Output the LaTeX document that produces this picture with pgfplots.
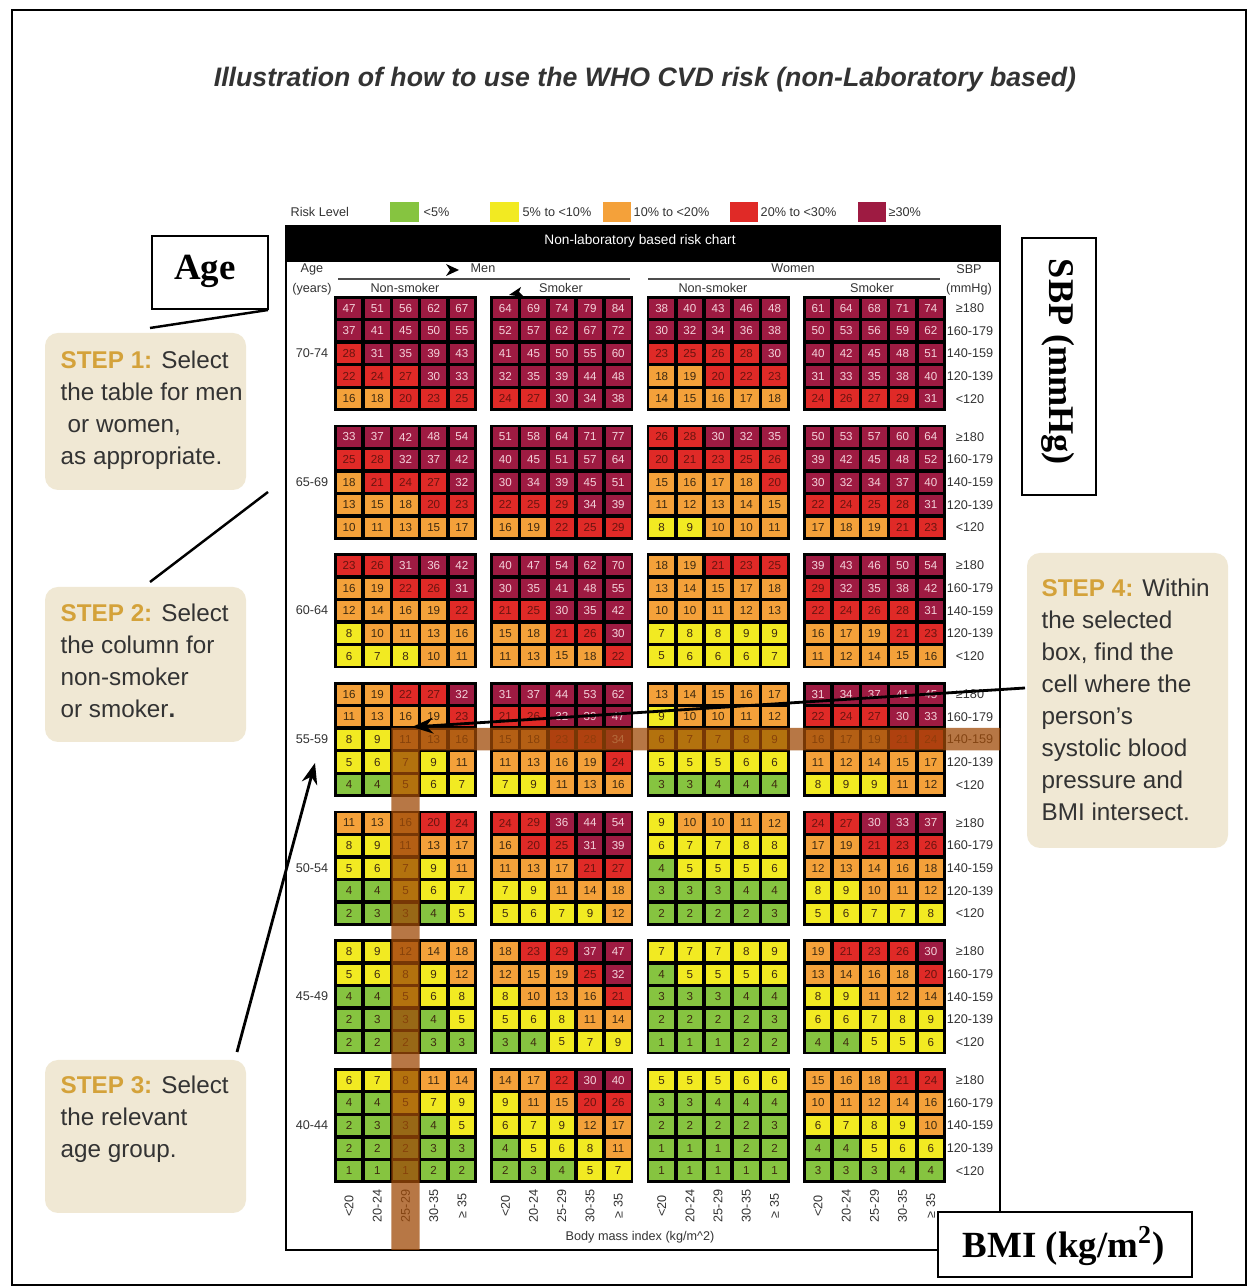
\documentclass[border=0pt]{standalone}
\usepackage{fontspec}
\setmainfont{Liberation Sans}
\newfontfamily\serifb{Liberation Serif}
\usepackage{pgfplots}
\usepackage{pgfplotstable}
\pgfplotsset{compat=1.18}
\usetikzlibrary{arrows.meta}
\definecolor{cgreen}{HTML}{86C440}
\definecolor{cyellow}{HTML}{F2EA22}
\definecolor{corange}{HTML}{F4A13A}
\definecolor{cred}{HTML}{E02A27}
\definecolor{cmaroon}{HTML}{9E1B42}
\definecolor{ctxt}{HTML}{3E2A10}
\definecolor{ctxtr}{HTML}{6A1410}
\definecolor{cpink}{HTML}{F4D2DA}
\definecolor{cband}{HTML}{9F4A08}
\definecolor{cbeige}{HTML}{F0E8D4}
\definecolor{cgold}{HTML}{D4A23A}
\definecolor{cdark}{HTML}{333333}
\pgfdeclareplotmark{cell}{%
  \pgfpathrectangle{\pgfpoint{-0.123cm}{-0.096cm}}{\pgfpoint{0.246cm}{0.192cm}}\pgfusepath{fill}}
% one risk class of one BMI column: #1 column, #2-#3 value range, #4 cell colour, #5 number colour
\newcommand{\cellplot}[5]{%
  \addplot[only marks, mark=cell, mark options={fill=#4, draw=none}, point meta=explicit,
    restrict expr to domain={\thisrow{c#1}}{#2:#3},
    nodes near coords,
    every node near coord/.append style={anchor=center, inner sep=0pt, font=\fontsize{3.3}{3.5}\selectfont, text=#5}]
    table[x expr={349.1+#1*28.2+floor((#1+0.5)/5)*15.3}, y expr={308.3+\thisrow{a}*128.67+\thisrow{r}*22.6}, meta=c#1] {\risk};}
% columns: a = age group (0 = 70-74 ... 6 = 40-44), r = SBP row (0 = >=180 ... 4 = <120)
% c0-c4 men non-smoker, c5-c9 men smoker, c10-c14 women non-smoker, c15-c19 women smoker (BMI <20 ... >=35)
\pgfplotstableread{
a r c0 c1 c2 c3 c4 c5 c6 c7 c8 c9 c10 c11 c12 c13 c14 c15 c16 c17 c18 c19
0 0 47 51 56 62 67 64 69 74 79 84 38 40 43 46 48 61 64 68 71 74
0 1 37 41 45 50 55 52 57 62 67 72 30 32 34 36 38 50 53 56 59 62
0 2 28 31 35 39 43 41 45 50 55 60 23 25 26 28 30 40 42 45 48 51
0 3 22 24 27 30 33 32 35 39 44 48 18 19 20 22 23 31 33 35 38 40
0 4 16 18 20 23 25 24 27 30 34 38 14 15 16 17 18 24 26 27 29 31
1 0 33 37 42 48 54 51 58 64 71 77 26 28 30 32 35 50 53 57 60 64
1 1 25 28 32 37 42 40 45 51 57 64 20 21 23 25 26 39 42 45 48 52
1 2 18 21 24 27 32 30 34 39 45 51 15 16 17 18 20 30 32 34 37 40
1 3 13 15 18 20 23 22 25 29 34 39 11 12 13 14 15 22 24 25 28 31
1 4 10 11 13 15 17 16 19 22 25 29 8 9 10 10 11 17 18 19 21 23
2 0 23 26 31 36 42 40 47 54 62 70 18 19 21 23 25 39 43 46 50 54
2 1 16 19 22 26 31 30 35 41 48 55 13 14 15 17 18 29 32 35 38 42
2 2 12 14 16 19 22 21 25 30 35 42 10 10 11 12 13 22 24 26 28 31
2 3 8 10 11 13 16 15 18 21 26 30 7 8 8 9 9 16 17 19 21 23
2 4 6 7 8 10 11 11 13 15 18 22 5 6 6 6 7 11 12 14 15 16
3 0 16 19 22 27 32 31 37 44 53 62 13 14 15 16 17 31 34 37 41 45
3 1 11 13 16 19 23 21 26 32 39 47 9 10 10 11 12 22 24 27 30 33
3 2 8 9 11 13 16 15 18 23 28 34 6 7 7 8 9 16 17 19 21 24
3 3 5 6 7 9 11 11 13 16 19 24 5 5 5 6 6 11 12 14 15 17
3 4 4 4 5 6 7 7 9 11 13 16 3 3 4 4 4 8 9 9 11 12
4 0 11 13 16 20 24 24 29 36 44 54 9 10 10 11 12 24 27 30 33 37
4 1 8 9 11 13 17 16 20 25 31 39 6 7 7 8 8 17 19 21 23 26
4 2 5 6 7 9 11 11 13 17 21 27 4 5 5 5 6 12 13 14 16 18
4 3 4 4 5 6 7 7 9 11 14 18 3 3 3 4 4 8 9 10 11 12
4 4 2 3 3 4 5 5 6 7 9 12 2 2 2 2 3 5 6 7 7 8
5 0 8 9 12 14 18 18 23 29 37 47 7 7 7 8 9 19 21 23 26 30
5 1 5 6 8 9 12 12 15 19 25 32 4 5 5 5 6 13 14 16 18 20
5 2 4 4 5 6 8 8 10 13 16 21 3 3 3 4 4 8 9 11 12 14
5 3 2 3 3 4 5 5 6 8 11 14 2 2 2 2 3 6 6 7 8 9
5 4 2 2 2 3 3 3 4 5 7 9 1 1 1 2 2 4 4 5 5 6
6 0 6 7 8 11 14 14 17 22 30 40 5 5 5 6 6 15 16 18 21 24
6 1 4 4 5 7 9 9 11 15 20 26 3 3 4 4 4 10 11 12 14 16
6 2 2 3 3 4 5 6 7 9 12 17 2 2 2 2 3 6 7 8 9 10
6 3 2 2 2 3 3 4 5 6 8 11 1 1 1 2 2 4 4 5 6 6
6 4 1 1 1 2 2 2 3 4 5 7 1 1 1 1 1 3 3 3 4 4
}\risk
\begin{document}
\begin{tikzpicture}
\begin{axis}[
  set layers,
  scale only axis, width=12.56cm, height=12.88cm,
  xmin=0, xmax=1256, ymin=0, ymax=1288, y dir=reverse,
  hide axis, clip=false,
  /pgf/number format/assume math mode=true,
]
\fill[white] (axis cs:0,0) rectangle (axis cs:1256,1288);
\draw[line width=0.6pt] (axis cs:12,10) rectangle (axis cs:1246,1285);
% title
\node[font=\fontsize{7.6}{8}\selectfont\bfseries\itshape, text=cdark] at (axis cs:645,80) {Illustration of how to use the WHO CVD risk (non-Laboratory based)};
% legend
\begin{scope}[every node/.style={anchor=west, inner sep=0pt, font=\fontsize{3.6}{4}\selectfont, text=cdark}]
\node at (axis cs:290,212) {Risk Level};
\node at (axis cs:423,212) {<5\%};
\node at (axis cs:522,212) {5\% to <10\%};
\node at (axis cs:633,212) {10\% to <20\%};
\node at (axis cs:760,212) {20\% to <30\%};
\node at (axis cs:888,212) {≥30\%};
\end{scope}
\fill[cgreen] (axis cs:390,202) rectangle (axis cs:419,222);
\fill[cyellow] (axis cs:490,202) rectangle (axis cs:519,222);
\fill[corange] (axis cs:603,202) rectangle (axis cs:631,222);
\fill[cred] (axis cs:730,202) rectangle (axis cs:758,222);
\fill[cmaroon] (axis cs:858,202) rectangle (axis cs:886,222);
% chart frame and header
\fill[black] (axis cs:286,226) rectangle (axis cs:1000,262);
\draw[line width=0.8pt] (axis cs:286,226) rectangle (axis cs:1000,1250);
\node[font=\fontsize{3.9}{4}\selectfont, text=white] at (axis cs:640,241) {Non-laboratory based risk chart};
\draw[line width=0.5pt, black!70] (axis cs:338,279) -- (axis cs:630,279);
\draw[line width=0.5pt, black!70] (axis cs:648,279) -- (axis cs:940,279);
\begin{scope}[font=\fontsize{3.6}{4}\selectfont, text=cdark]
\node at (axis cs:312,269) {Age};
\node at (axis cs:312,289) {(years)};
\node at (axis cs:483,268) {Men};
\node at (axis cs:793,268) {Women};
\node at (axis cs:405,288) {Non-smoker};
\node at (axis cs:561,288) {Smoker};
\node at (axis cs:713,288) {Non-smoker};
\node at (axis cs:872,288) {Smoker};
\node at (axis cs:969,269) {SBP};
\node at (axis cs:969,289) {(mmHg)};
\node at (axis cs:312,353) {70-74};
\node at (axis cs:312,482) {65-69};
\node at (axis cs:312,610) {60-64};
\node at (axis cs:312,739) {55-59};
\node at (axis cs:312,868) {50-54};
\node at (axis cs:312,996) {45-49};
\node at (axis cs:312,1125) {40-44};
\node at (axis cs:640,1237) {Body mass index (kg/m\textasciicircum 2)};
\end{scope}
\fill (axis cs:446,264) -- (axis cs:459,270) -- (axis cs:446,276) -- (axis cs:450,270) -- cycle;
\fill (axis cs:509,295) -- (axis cs:521,287) -- (axis cs:519,292) -- (axis cs:524,297) -- cycle;
% SBP labels and black block backgrounds
\pgfplotsinvokeforeach{0,...,6}{
  \node[font=\fontsize{3.6}{4}\selectfont, text=cdark] at (axis cs:970,{308.3+#1*128.67}) {≥180};
  \node[font=\fontsize{3.6}{4}\selectfont, text=cdark] at (axis cs:970,{330.9+#1*128.67}) {160-179};
  \node[font=\fontsize{3.6}{4}\selectfont, text=cdark] at (axis cs:970,{353.5+#1*128.67}) {140-159};
  \node[font=\fontsize{3.6}{4}\selectfont, text=cdark] at (axis cs:970,{376.1+#1*128.67}) {120-139};
  \node[font=\fontsize{3.6}{4}\selectfont, text=cdark] at (axis cs:970,{398.7+#1*128.67}) {<120};
  \fill[black] (axis cs:334,{296+#1*128.67}) rectangle (axis cs:477,{411+#1*128.67});
  \fill[black] (axis cs:490.3,{296+#1*128.67}) rectangle (axis cs:633.3,{411+#1*128.67});
  \fill[black] (axis cs:646.6,{296+#1*128.67}) rectangle (axis cs:789.6,{411+#1*128.67});
  \fill[black] (axis cs:802.9,{296+#1*128.67}) rectangle (axis cs:945.9,{411+#1*128.67});
}
% BMI labels
\pgfplotsinvokeforeach{0,...,3}{
  \node[rotate=90, font=\fontsize{3.6}{4}\selectfont, text=cdark] at (axis cs:{349.1+#1*156.3},1206) {<20};
  \node[rotate=90, font=\fontsize{3.6}{4}\selectfont, text=cdark] at (axis cs:{377.3+#1*156.3},1206) {20-24};
  \node[rotate=90, font=\fontsize{3.6}{4}\selectfont, text=cdark] at (axis cs:{405.5+#1*156.3},1206) {25-29};
  \node[rotate=90, font=\fontsize{3.6}{4}\selectfont, text=cdark] at (axis cs:{433.7+#1*156.3},1206) {30-35};
  \node[rotate=90, font=\fontsize{3.6}{4}\selectfont, text=cdark] at (axis cs:{461.9+#1*156.3},1206) {≥ 35};
}
% risk cells, one plot per risk class and BMI column
\pgfplotsinvokeforeach{0,...,19}{
  \cellplot{#1}{0}{4.5}{cgreen}{ctxt}
  \cellplot{#1}{4.5}{9.5}{cyellow}{ctxt}
  \cellplot{#1}{9.5}{19.5}{corange}{ctxt}
  \cellplot{#1}{19.5}{29.5}{cred}{ctxtr}
  \cellplot{#1}{29.5}{200}{cmaroon}{cpink}
}
\begin{pgfonlayer}{axis foreground}
% highlight bands
\fill[cband, opacity=0.75] (axis cs:391.4,728) rectangle (axis cs:419.6,1250) (axis cs:391.4,728) rectangle (axis cs:1000,750.5);
% step boxes
\fill[cbeige, rounded corners=0.13cm] (axis cs:45,333) rectangle (axis cs:246,490);
\fill[cbeige, rounded corners=0.13cm] (axis cs:45,587) rectangle (axis cs:246,742);
\fill[cbeige, rounded corners=0.13cm] (axis cs:45,1060) rectangle (axis cs:246,1213);
\fill[cbeige, rounded corners=0.13cm] (axis cs:1027,553) rectangle (axis cs:1228,848);
\begin{scope}[every node/.style={anchor=north west, align=left, inner sep=0pt, font=\fontsize{6.9}{9.1}\selectfont, text=cdark}]
\node at (axis cs:60,350) {{\color{cgold}\bfseries STEP 1:} Select\\the table for men\\\hspace{2pt}or women,\\as appropriate.};
\node at (axis cs:60,603) {{\color{cgold}\bfseries STEP 2:} Select\\the column for\\non-smoker\\or smoker\textbf{.}};
\node at (axis cs:60,1075) {{\color{cgold}\bfseries STEP 3:} Select\\the relevant\\age group.};
\node at (axis cs:1041,578) {{\color{cgold}\bfseries STEP 4:} Within\\the selected\\box, find the\\cell where the\\person’s\\systolic blood\\pressure and\\BMI intersect.};
\end{scope}
% pointer lines
\draw[line width=0.7pt] (axis cs:150,328) -- (axis cs:268,310);
\draw[line width=0.7pt] (axis cs:150,582) -- (axis cs:268,492);
\draw[line width=0.8pt, -{Stealth[length=6pt,width=4.5pt]}] (axis cs:237,1052) -- (axis cs:315,763);
\draw[line width=0.8pt, -{Stealth[length=6pt,width=4.5pt]}] (axis cs:1025,688) -- (axis cs:412,727);
% label boxes
\draw[fill=white, line width=0.6pt] (axis cs:152,236) rectangle (axis cs:268,309);
\node[font=\serifb\bfseries\fontsize{10.5}{12}\selectfont] at (axis cs:205,271) {Age};
\draw[fill=white, line width=0.6pt] (axis cs:1022,238) rectangle (axis cs:1096,495);
\node[rotate=-90, font=\serifb\bfseries\fontsize{10.3}{12}\selectfont] at (axis cs:1058,362) {SBP (mmHg)};
\draw[fill=white, line width=0.6pt] (axis cs:938,1212) rectangle (axis cs:1192,1277);
\node[font=\serifb\bfseries\fontsize{10.5}{12}\selectfont] at (axis cs:1064,1246) {BMI (kg/m\textsuperscript{2})};
\end{pgfonlayer}
\end{axis}
\end{tikzpicture}
\end{document}
